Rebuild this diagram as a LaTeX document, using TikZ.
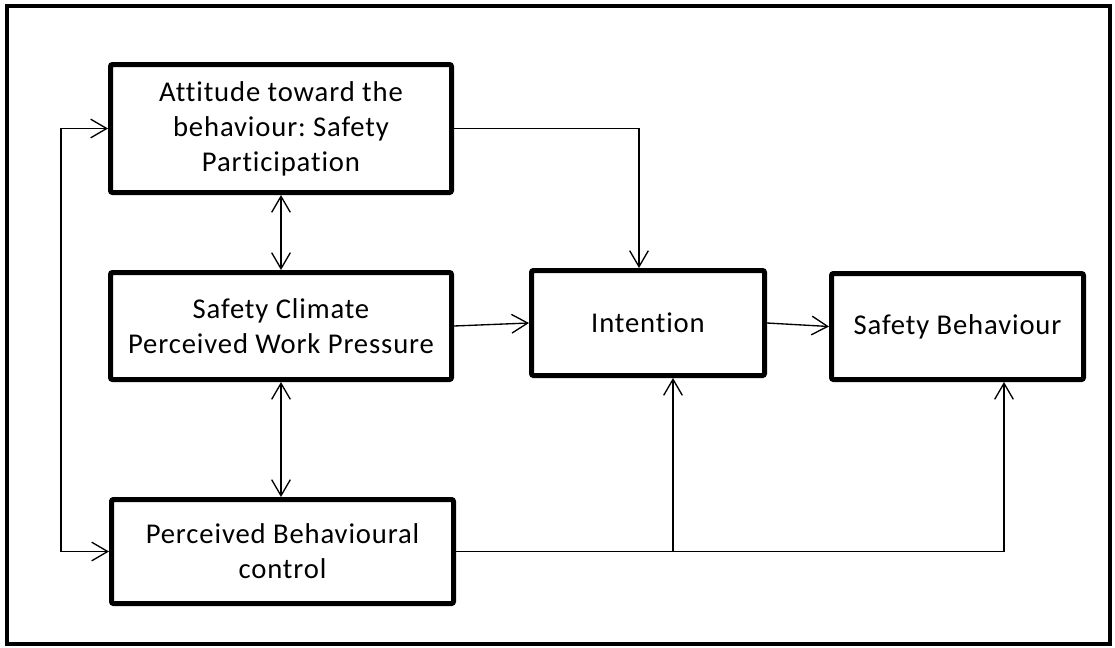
\documentclass[tikz,border=0pt]{standalone}
\usepackage{fontspec}
\setmainfont{Carlito}[Ligatures=NoCommon, LetterSpace=3]
\frenchspacing
\usetikzlibrary{arrows.meta,calc,positioning}
\tikzset{
  factor/.style={
    rectangle,
    draw=black,
    line width=3.75pt,
    rounded corners=1.5pt,
    fill=white,
    align=center,
    inner sep=2pt,
    font=\fontsize{21.5}{26.25}\selectfont
  },
  link/.style={
    line width=1pt,
    ->,
    >={Straight Barb[length=12pt,width=14pt]}
  },
  twoway/.style={
    link,
    <->
  },
  frame/.style={
    draw=black,
    line width=2.6pt
  }
}
\begin{document}
\begin{tikzpicture}[x=0.75pt,y=-0.75pt]
  \useasboundingbox (0,0) rectangle (1115,647);
  \draw[frame] (7,6) rectangle (1110,644);

  % ------------------------------------------------------------------
  % Factors
  % ------------------------------------------------------------------
  \node[factor, minimum width=255.75pt, minimum height=96pt] (att) at (281,128.5)
    {Attitude toward the\\behaviour: Safety\\Participation};
  \node[factor, minimum width=255.75pt, minimum height=80.25pt] (clim) at (281,326)
    {Safety Climate\\Perceived Work Pressure};
  \node[factor, minimum width=256.5pt, minimum height=78pt] (pbc) at (282.5,551.5)
    {Perceived Behavioural\\control};
  \node[factor, minimum width=174.75pt, minimum height=78.75pt] (int) at (648,323)
    {Intention};
  \node[factor, minimum width=189pt, minimum height=79.5pt] (sb) at (957.5,326.5)
    {Safety Behaviour};

  % ------------------------------------------------------------------
  % Connectors
  % ------------------------------------------------------------------
  \coordinate (loop) at (61,0);
  \coordinate (intTop) at ($(int.north)+(-9,0)$);
  \coordinate (intBot) at ($(int.south)+(25,0)$);
  \coordinate (sbBot) at ($(sb.south)+(46.5,0)$);

  % Correlations between the predictors
  \draw[twoway] (att.west) -- (att.west -| loop) -- (pbc.west -| loop) -- (pbc.west);
  \draw[twoway] (att.south) -- (clim.north);
  \draw[twoway] (clim.south) -- (clim.south |- pbc.north);

  % Paths to intention and behaviour
  \draw[link] (att.east) -| (intTop);
  \draw[link] (clim.east) -- (int.west);
  \draw[link] (int.east) -- (sb.west);
  \draw[link] (pbc.east) -| (sbBot);
  \draw[link] (pbc.east -| intBot) -- (intBot);
\end{tikzpicture}
\end{document}
